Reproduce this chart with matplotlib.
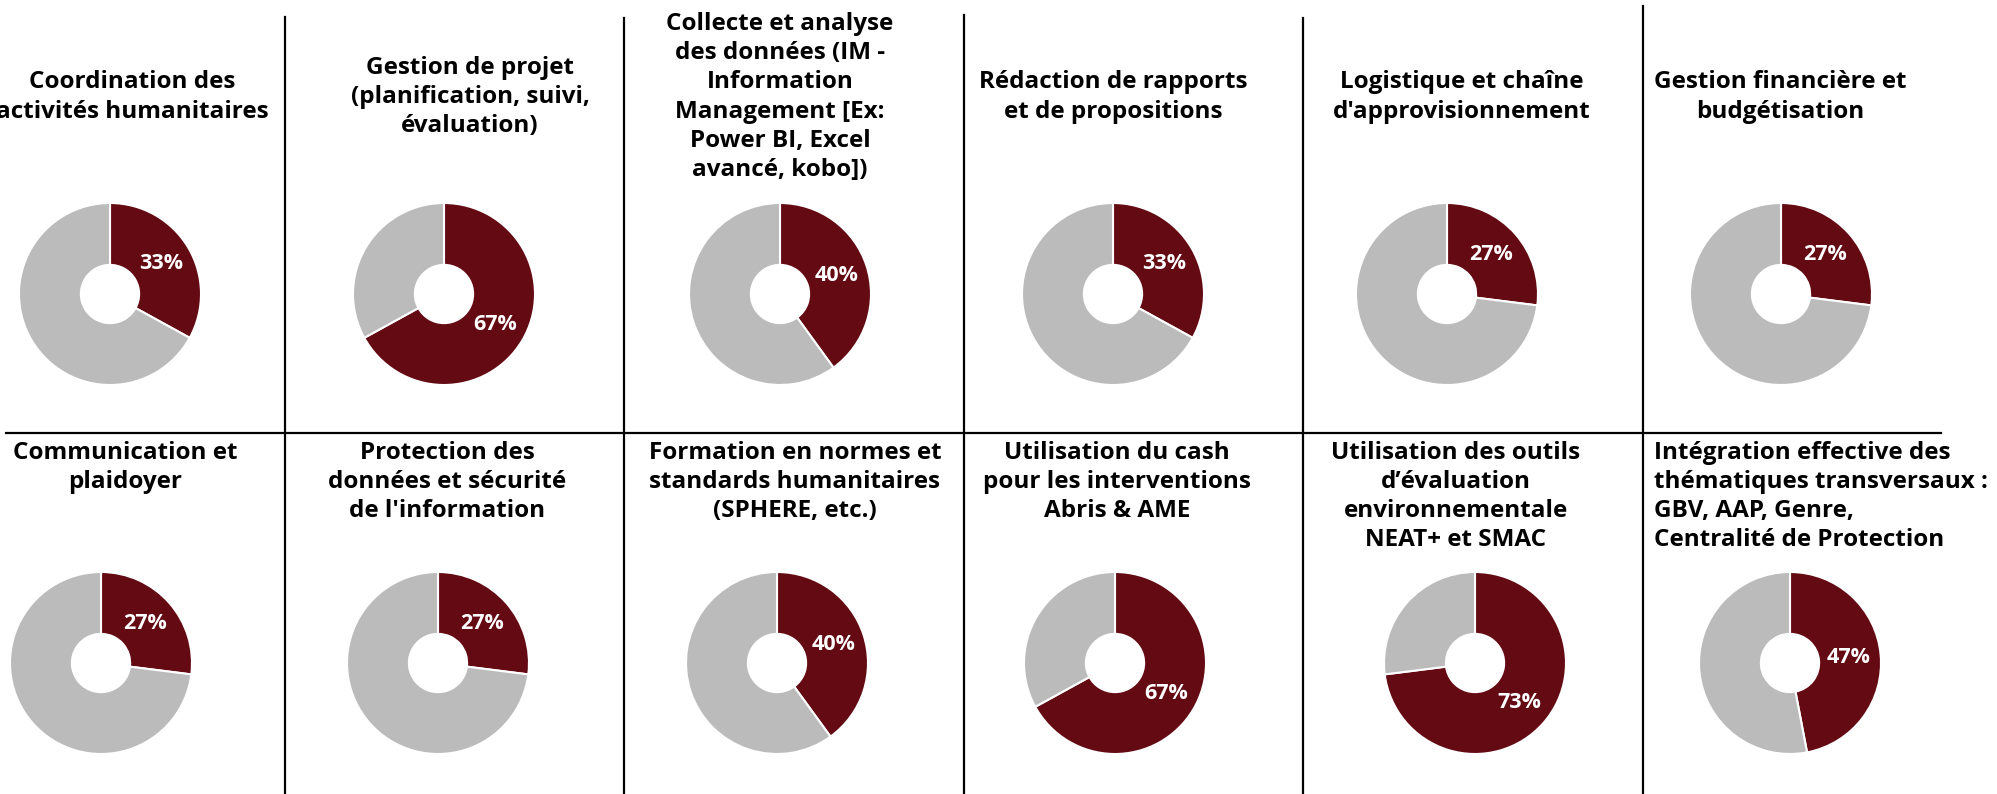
import matplotlib.pyplot as plt

# data
titles = [
    "Coordination des\nactivités humanitaires",
    "Gestion de projet\n(planification, suivi,\névaluation)",
    "Collecte et analyse\ndes données (IM -\nInformation\nManagement [Ex:\nPower BI, Excel\navancé, kobo])",
    "Rédaction de rapports\net de propositions",
    "Logistique et chaîne\nd'approvisionnement",
    "Gestion financière et\nbudgétisation",
    "Communication et\nplaidoyer",
    "Protection des\ndonnées et sécurité\nde l'information",
    "Formation en normes et\nstandards humanitaires\n(SPHERE, etc.)",
    "Utilisation du cash\npour les interventions\nAbris & AME",
    "Utilisation des outils\nd’évaluation\nenvironnementale\nNEAT+ et SMAC",
    "Intégration effective des\nthématiques transversaux :\nGBV, AAP, Genre,\nCentralité de Protection",
]
pct_yes = [33, 67, 40, 33, 27, 27, 27, 27, 40, 67, 73, 47]

# layout (pixels, y from top)
W, H = 1997, 794
pie_x = [110, 444, 780, 1113, 1447, 1781, 101, 438, 777, 1115, 1475, 1790]
pie_y = [294] * 6 + [663] * 6
radius = 91
title_x = [132, 470, 780, 1113, 1462, 1780, 125, 447, 795, 1117, 1456, 1654]

RED = "#630A13"
GRAY = "#BBBBBB"
FONT = "Open Sans"

fig = plt.figure(figsize=(W / 100, H / 100), dpi=100)
bg = fig.add_axes([0, 0, 1, 1])
bg.set_xlim(0, W)
bg.set_ylim(H, 0)
bg.axis("off")

# grid lines
for x, top in zip([285, 624, 964, 1303, 1643], [17, 18, 15, 18, 6]):
    bg.plot([x, x], [top, H], color="black", lw=1.6)
bg.plot([6, 1941], [433, 433], color="black", lw=1.6)

for i, (t, v) in enumerate(zip(titles, pct_yes)):
    if i < 6:
        bg.text(title_x[i], 97, t, ha="center", va="center", multialignment="center",
                fontsize=17.5, fontweight="bold", family=FONT, linespacing=1.28)
    else:
        align = "left" if i == 11 else "center"
        bg.text(title_x[i], 441, t, ha=align, va="top", multialignment=align,
                fontsize=17.5, fontweight="bold", family=FONT, linespacing=1.28)

    cx, cy = pie_x[i], pie_y[i]
    ax = fig.add_axes([(cx - radius) / W, 1 - (cy + radius) / H, 2 * radius / W, 2 * radius / H])
    wedges, _, autotexts = ax.pie(
        [v, 100 - v], colors=[RED, GRAY], startangle=90, counterclock=False,
        autopct=lambda p: f"{p:.0f}%", pctdistance=0.65,
        wedgeprops=dict(width=0.68, edgecolor="white", linewidth=1.5),
    )
    autotexts[1].set_visible(False)
    autotexts[0].set_text(f"{v}%")
    autotexts[0].set_color("white")
    autotexts[0].set_fontsize(15.5)
    autotexts[0].set_fontweight("bold")
    autotexts[0].set_family(FONT)
    ax.set_xlim(-1, 1)
    ax.set_ylim(-1, 1)
    ax.set_aspect("equal")

fig.savefig("out.png", dpi=100)
